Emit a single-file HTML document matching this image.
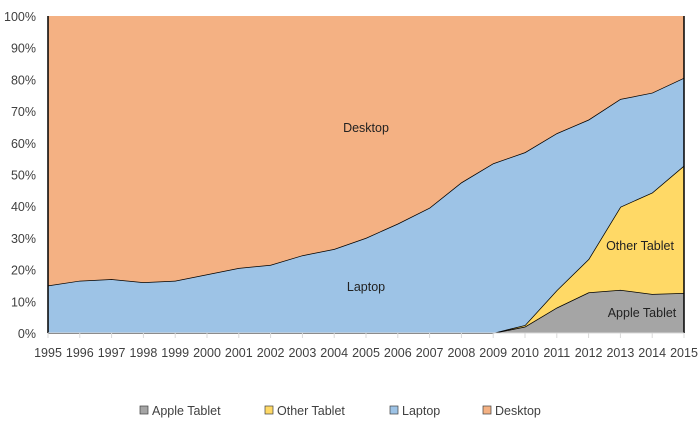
<!DOCTYPE html>
<html><head><meta charset="utf-8"><style>
body{margin:0;background:#fff;font-family:"Liberation Sans",sans-serif}
svg text{font-family:"Liberation Sans",sans-serif;fill:#404040}
</style></head><body>
<svg id="c" width="700" height="427"></svg>
<script>
const years=[1995,1996,1997,1998,1999,2000,2001,2002,2003,2004,2005,2006,2007,2008,2009,2010,2011,2012,2013,2014,2015];
const apple=[0,0,0,0,0,0,0,0,0,0,0,0,0,0,0,2,8,12.8,13.6,12.3,12.6];
const other=[0,0,0,0,0,0,0,0,0,0,0,0,0,0,0,0.5,5.5,10.5,26.2,32,40.2];
const laptop=[15,16.5,17,16,16.5,18.5,20.5,21.5,24.5,26.5,30,34.5,39.5,47.5,53.5,54.5,49.5,44,34,31.5,27.7];
const desktop=[85,83.5,83,84,83.5,81.5,79.5,78.5,75.5,73.5,70,65.5,60.5,52.5,46.5,43,37,32.7,26.2,24.2,19.5];
const yTicks=[0,10,20,30,40,50,60,70,80,90,100];
const series=[["Apple Tablet",apple,"#a5a5a5"],["Other Tablet",other,"#ffd966"],["Laptop",laptop,"#9dc3e6"],["Desktop",desktop,"#f4b183"]];
const svg=document.getElementById('c'),NS="http://www.w3.org/2000/svg";
const x0=48,x1=684,yB=333,yT=16;
const X=i=>x0+(x1-x0)*i/(years.length-1);
const Y=v=>yB-(yB-yT)*v/100;
function mk(t,a,p){const e=document.createElementNS(NS,t);for(const k in a)e.setAttribute(k,a[k]);(p||svg).appendChild(e);return e;}
let base=years.map(()=>0);
series.forEach(([name,vals,col],si)=>{
  const top=base.map((b,i)=>b+vals[i]);
  let d="M"+years.map((y,i)=>X(i)+","+Y(top[i])).join(" L");
  for(let i=years.length-1;i>=0;i--)d+=" L"+X(i)+","+Y(base[i]);
  const p=mk("path",{d:d+"Z",fill:col});
  
  
  if(si<3){const l=mk("polyline",{points:years.map((y,i)=>X(i)+","+Y(top[i])).join(" "),fill:"none",stroke:"#000","stroke-width":1.5});
  
  }
  base=top;
});
mk("line",{x1:x0,y1:yT,x2:x0,y2:yB,stroke:"#000","stroke-width":1.5});
mk("line",{x1:x1,y1:yT,x2:x1,y2:yB,stroke:"#000","stroke-width":1.5});
mk("line",{x1:x0,y1:yB,x2:x1,y2:yB,stroke:"#d9d9d9"});
yTicks.forEach(v=>{const t=mk("text",{x:36,y:Y(v)+5,"text-anchor":"end","font-size":12.5});t.textContent=v+"%";

});
years.forEach((y,i)=>{mk("line",{x1:X(i),y1:yB,x2:X(i),y2:yB+5,stroke:"#d9d9d9"});
const t=mk("text",{x:X(i),y:357,"text-anchor":"middle","font-size":12.5});t.textContent=y;

});
[["Desktop",366,132],["Laptop",366,291],["Other Tablet",640,250],["Apple Tablet",642,317]].forEach(([s,x,y])=>{
const t=mk("text",{x:x,y:y,"text-anchor":"middle","font-size":12.5});t.textContent=s;t.style.fill="#222";

});
const lx=[140,265,390,483];
series.forEach(([name,v,col],i)=>{
const r=mk("rect",{x:lx[i],y:406,width:8,height:8,fill:col,stroke:"#404040","stroke-width":0.7});


const t=mk("text",{x:lx[i]+12,y:415,"font-size":12.5});t.textContent=name;

});
</script>
</body></html>
